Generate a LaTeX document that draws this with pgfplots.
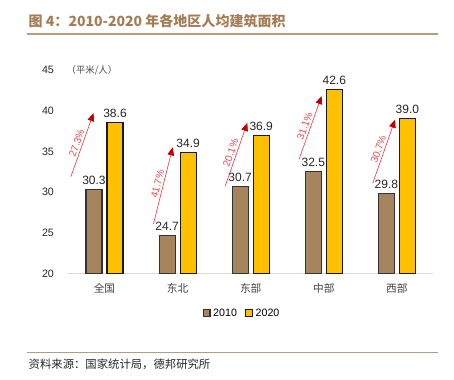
\documentclass[border=0pt]{standalone}
\usepackage{fontspec}
\setmainfont{Liberation Sans}
\newfontfamily\cjk{Noto Sans CJK SC}
\usepackage{pgfplots}
\pgfplotsset{compat=1.18}
\usetikzlibrary{arrows.meta}
\definecolor{brn}{HTML}{A6845E}
\definecolor{ylw}{HTML}{FFC000}
\definecolor{ttl}{HTML}{A47C55}
\definecolor{rul}{HTML}{B89C82}
\definecolor{arr}{HTML}{E8474B}
\definecolor{arrh}{HTML}{C00000}
\tikzset{growarrow/.style={arr, line width=0.5pt, -{Triangle[length=6pt,width=5pt,fill=arrh,color=arrh]}},
  glab/.style={sloped, above, inner sep=1.5pt, font=\fontsize{7.5}{8}\selectfont, text=arr}}
\begin{document}
\begin{tikzpicture}
\begin{axis}[
  scale only axis,
  width=273.75pt, height=152.25pt,
  xmin=-0.5, xmax=4.5, ymin=20, ymax=45,
  ytick={20,25,...,45},
  xtick={0,...,4}, xticklabels={全国,东北,东部,中部,西部},
  xticklabel style={font=\cjk\fontsize{8}{9}\selectfont, text=black!75, yshift=-4pt},
  yticklabel style={font=\fontsize{8}{9}\selectfont, text=black!85, xshift=-7pt},
  /pgf/number format/assume math mode=true,
  axis x line*=bottom, axis y line*=left,
  y axis line style={draw=none},
  x axis line style={draw=black!15, line width=0.8pt},
  major tick length=0pt,
  ybar=3.75pt, bar width=12pt,
  clip=false,
  nodes near coords,
  nodes near coords style={font=\fontsize{9}{10}\selectfont, text=black!85, /pgf/number format/.cd, fixed, fixed zerofill, precision=1},
  legend style={at={(0.477,-0.197)}, anchor=center, draw=none, fill=none, legend columns=2, font=\fontsize{8}{9}\selectfont, /tikz/every even column/.append style={column sep=4pt}},
  legend image code/.code={\draw[#1] (0pt,-2.6pt) rectangle (5.2pt,2.6pt);},
]
\addplot[fill=brn, draw=black!80, line width=0.8pt] coordinates {(0,30.3) (1,24.7) (2,30.7) (3,32.5) (4,29.8)};
\addplot[fill=ylw, draw=black!90, line width=0.8pt] coordinates {(0,38.6) (1,34.9) (2,36.9) (3,42.6) (4,39.0)};
\legend{2010,2020}
\draw[growarrow] (axis cs:-0.46,31.9) -- node[glab] {27.3\%} (axis cs:-0.15,39.7);
\draw[growarrow] (axis cs:0.67,26.1) -- node[glab] {41.7\%} (axis cs:0.933,35.5);
\draw[growarrow] (axis cs:1.65,30.7) -- node[glab] {20.1\%} (axis cs:1.953,38.5);
\draw[growarrow] (axis cs:2.66,34.0) -- node[glab] {31.1\%} (axis cs:2.97,41.8);
\draw[growarrow] (axis cs:3.67,31.1) -- node[glab] {30.7\%} (axis cs:3.975,38.9);
% frame and decorations
\path (axis cs:-1.4295,6.946) rectangle (axis cs:4.781,53.62);
\node[anchor=base west, text=ttl, font=\cjk\bfseries\fontsize{10.5}{12}\selectfont] at (axis cs:-1.101,50.419) {图 4：2010-2020 年各地区人均建筑面积};
\draw[rul, line width=1pt] (axis cs:-1.060,49.433) -- (axis cs:4.562,49.433);
\draw[rul, line width=1pt] (axis cs:-1.060,10.271) -- (axis cs:4.562,10.271);
\node[anchor=base west, font=\cjk\fontsize{8.5}{9}\selectfont, text=black!85] at (axis cs:-1.101,8.30) {资料来源：国家统计局，德邦研究所};
\node[anchor=west, font=\cjk\fontsize{7}{8}\selectfont, text=black!70] at (axis cs:-0.581,45) {（平米/人）};
\end{axis}
\end{tikzpicture}
\end{document}
